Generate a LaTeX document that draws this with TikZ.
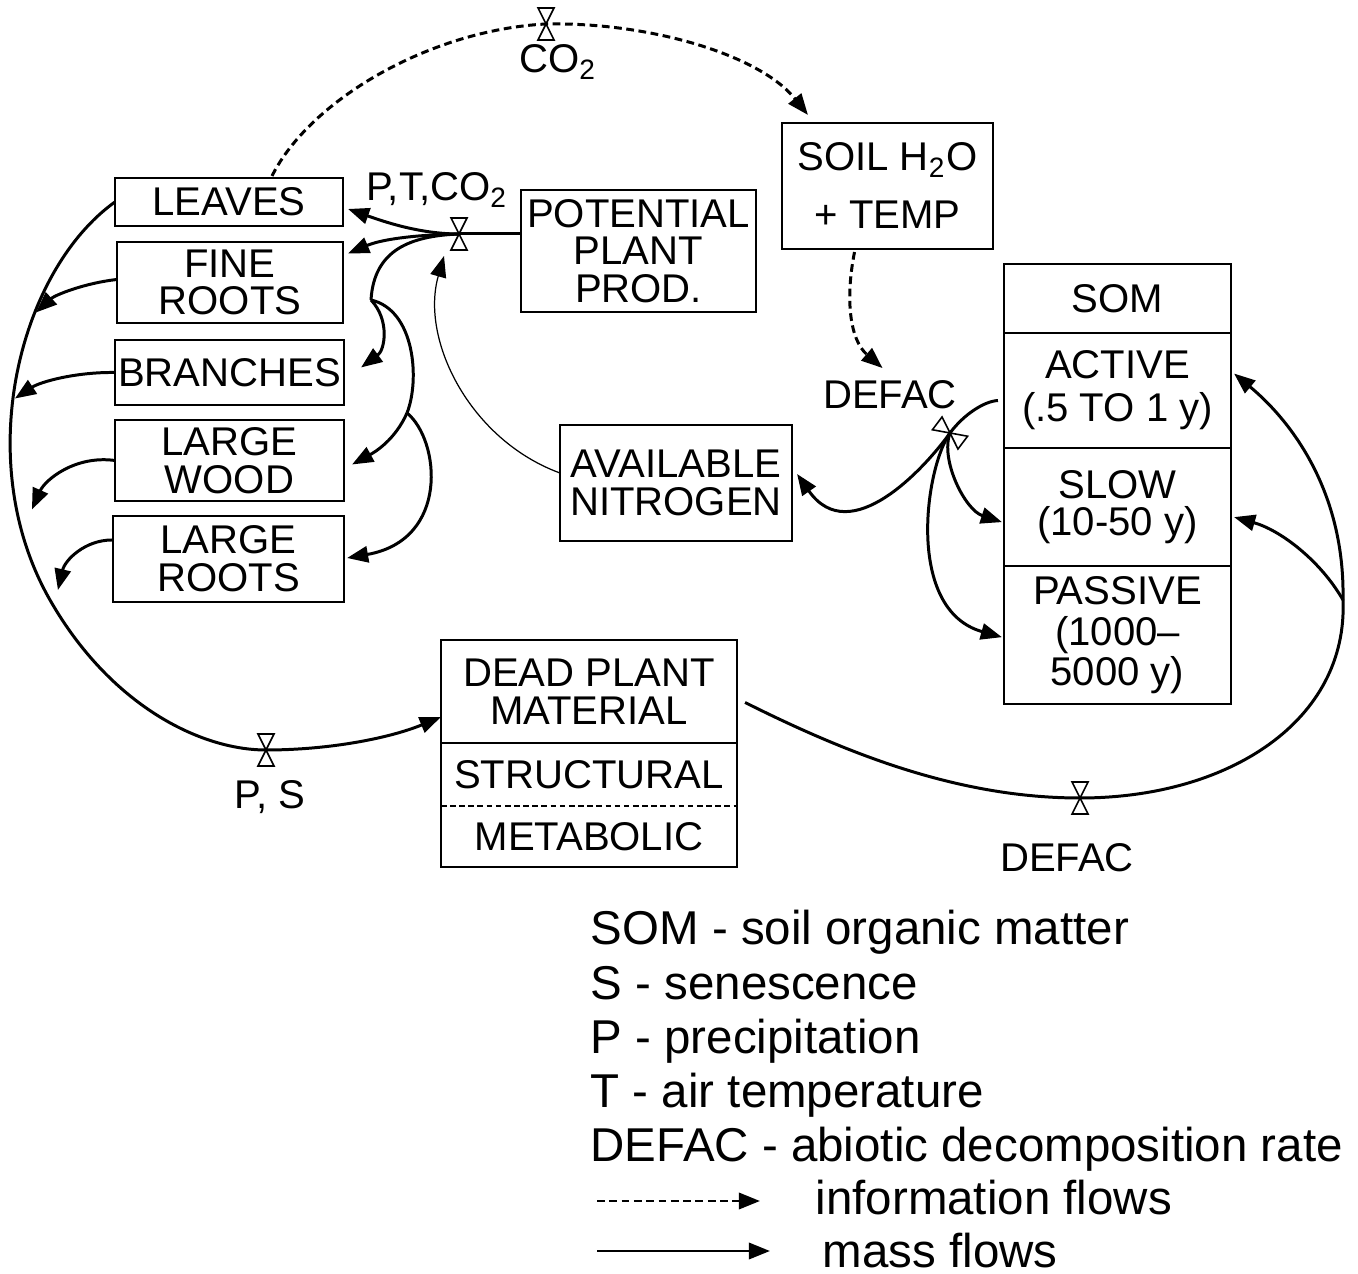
\documentclass[tikz,border=0pt]{standalone}
\usepackage{fontspec}
\setmainfont{Liberation Sans}
\usetikzlibrary{arrows.meta, positioning, calc}

\tikzset{
  box/.style={draw, line width=0.6pt, inner sep=0pt, outer sep=0pt},
  cell/.style={inner sep=0pt, outer sep=0pt},
  frame/.style={line width=0.6pt},
  mass/.style={line width=0.85pt, -{Triangle[length=6pt, width=4.6pt]}},
  massline/.style={line width=0.85pt},
  info/.style={line width=0.85pt, dash pattern=on 2.2pt off 1.3pt, -{Triangle[length=6pt, width=4.6pt]}},
  thinflow/.style={line width=0.35pt, -{Triangle[length=6pt, width=4.6pt]}},
  valve/.pic={\draw[line width=0.45pt, fill=white] (-8,-16) -- (8,-16) -- (-8,16) -- (8,16) -- cycle;},
  legend/.style={font={\fontsize{13.5}{15}\selectfont}, anchor=base west, inner sep=0pt}
}

\begin{document}
\begin{tikzpicture}[x=0.01cm, y=-0.01cm, every node/.style={font={\fontsize{11.4}{10.7}\selectfont}, align=center}]
    \useasboundingbox (0,0) rectangle (1358,1274);

    % Plant pools
    \node[box, minimum width=2.28cm, minimum height=0.48cm] (leaves) at (229,202) {LEAVES};
    \node[box, minimum width=2.26cm, minimum height=0.81cm] (fineroots) at (230,282.5) {FINE\\ROOTS};
    \node[box, minimum width=2.29cm, minimum height=0.65cm] (branches) at (229.5,372.5) {BRANCHES};
    \node[box, minimum width=2.29cm, minimum height=0.81cm] (largewood) at (229.5,460.5) {LARGE\\WOOD};
    \node[box, minimum width=2.31cm, minimum height=0.86cm] (largeroots) at (228.5,559) {LARGE\\ROOTS};

    % Drivers
    \node[box, minimum width=2.35cm, minimum height=1.22cm] (potprod) at (638.5,251) {POTENTIAL\\PLANT\\PROD.};
    \node[box, minimum width=2.11cm, minimum height=1.26cm] (soilwt) at (887.5,186) {SOIL H\textsubscript{2}O\\[5.8pt]+ TEMP};
    \node[box, minimum width=2.32cm, minimum height=1.16cm] (nitrogen) at (676,483) {AVAILABLE\\NITROGEN};

    % Soil organic matter
    \node[box, minimum width=2.27cm, minimum height=0.69cm] (somhead) at (1117.5,298.5) {SOM};
    \node[box, minimum width=2.27cm, minimum height=1.15cm, below=0pt of somhead] (active) {ACTIVE\\[1.5pt](.5 TO 1 y)};
    \node[box, minimum width=2.27cm, minimum height=1.18cm, below=0pt of active] (slow) {SLOW\\(10-50 y)};
    \node[box, minimum width=2.27cm, minimum height=1.38cm, below=0pt of slow] (passive) {PASSIVE\\[0.8pt](1000--\\[0.8pt]5000 y)};

    % Dead plant material
    \node[cell, minimum width=2.96cm, minimum height=1.03cm] (deadplant) at (589,691.5) {DEAD PLANT\\MATERIAL};
    \node[cell, minimum width=2.96cm, minimum height=0.63cm, below=0pt of deadplant] (structural) {STRUCTURAL};
    \node[cell, minimum width=2.96cm, minimum height=0.61cm, below=0pt of structural] (metabolic) {METABOLIC};
    \draw[frame] (deadplant.north west) rectangle (metabolic.south east);
    \draw[frame] (structural.north west) -- (structural.north east);
    \draw[frame, dash pattern=on 1.6pt off 1pt] (structural.south west) -- (structural.south east);

    % Valves and junctions
    \coordinate (vco) at (546,24);
    \coordinate (vptc) at (459,234);
    \coordinate (vdefac) at (950,433);
    \coordinate (vps) at (266,750);
    \coordinate (vdefacb) at (1080,798);
    \coordinate (split1) at (371,300);
    \coordinate (split2) at (407,413);
    \coordinate (rsplit) at (1343,600);

    % Information flows
    \draw[info] ($(leaves.north)+(43,-2)$) .. controls (310,100) and (430,30) .. (vco)
        .. controls (650,22) and (760,55) .. ($(soilwt.north west)+(26,-8)$);
    \draw[info] ($(soilwt.south)+(-33,3)$) .. controls (845,300) and (850,340) .. ($(soilwt.south)+(-5,119)$);

    % Production
    \draw[massline] ($(potprod.west)+(0,-17)$) -- (vptc);
    \draw[mass] (vptc) .. controls (420,234) and (385,222) .. ($(leaves.east)+(5,7)$);
    \draw[mass] (vptc) .. controls (410,235) and (380,240) .. ($(fineroots.east)+(5,-29)$);
    \draw[massline] (vptc) .. controls (410,236) and (374,250) .. (split1);
    \draw[mass] (split1) .. controls (390,320) and (385,350) .. ($(branches.east)+(17,-5)$);
    \draw[massline] (split1) .. controls (415,310) and (420,380) .. (split2);
    \draw[mass] (split2) .. controls (395,440) and (375,452) .. ($(largewood.east)+(8,4)$);
    \draw[mass] (split2) .. controls (440,440) and (450,540) .. ($(largeroots.east)+(3,-1)$);
    \draw[thinflow] ($(nitrogen.west)+(0,-10)$) .. controls (470,440) and (420,340) .. ($(vptc)+(-15,22)$);

    % Litterfall
    \draw[mass] (leaves.west) .. controls (20,270) and (-30,460) .. (50,600)
        .. controls (110,705) and (200,750) .. (vps)
        .. controls (330,750) and (390,738) .. ($(deadplant.south west)+(0,-26)$);
    \draw[mass] ($(fineroots.west)+(0,-3)$) .. controls (85,283) and (55,295) .. ($(fineroots.west)+(-81,30)$);
    \draw[mass] (branches.west) .. controls (75,372) and (40,382) .. ($(branches.west)+(-100,26)$);
    \draw[mass] (largewood.west) .. controls (75,455) and (45,480) .. ($(largewood.west)+(-83,49)$);
    \draw[mass] ($(largeroots.west)+(-1,-19)$) .. controls (85,540) and (65,560) .. ($(largeroots.west)+(-55,31)$);

    % Decomposition
    \draw[massline] ($(active.west)+(-6,10)$) .. controls (985,401) and (964,414) .. (vdefac);
    \draw[mass] (vdefac) .. controls (925,468) and (850,550) .. ($(nitrogen.east)+(5,-9)$);
    \draw[mass] (vdefac) .. controls (940,460) and (965,510) .. ($(slow.west)+(-2,15)$);
    \draw[mass] (vdefac) .. controls (925,468) and (905,610) .. ($(passive.west)+(-2,2)$);
    \draw[massline] ($(deadplant.east)+(8,11)$) .. controls (850,755) and (960,798) .. (vdefacb)
        .. controls (1230,798) and (1348,720) .. (rsplit);
    \draw[mass] (rsplit) .. controls (1345,490) and (1290,420) .. ($(active.east)+(3,-17)$);
    \draw[mass] (rsplit) .. controls (1320,560) and (1280,530) .. ($(slow.east)+(3,10)$);

    \pic at (vco) {valve};
    \pic at (vptc) {valve};
    \pic[rotate=53] at (vdefac) {valve};
    \pic at (vps) {valve};
    \pic at (vdefacb) {valve};

    % Labels
    \node (lblptc) at (437,190) {P,T,CO\textsubscript{2}};
    \node (lblco) at (558,62) {CO\textsubscript{2}};
    \node (lbldefac) at (890,395) {DEFAC};
    \node (lblps) at (270,797) {P, S};
    \node (lbldefacb) at (1067,858) {DEFAC};

    % Legend
    \node[legend] (legsom) at (590,945) {SOM - soil organic matter};
    \node[legend] (legs) at (590,999) {S - senescence};
    \node[legend] (legp) at (590,1053) {P - precipitation};
    \node[legend] (legt) at (590,1107) {T - air temperature};
    \node[legend] (legdefac) at (590,1161) {DEFAC - abiotic decomposition rate};
    \node[legend] (leginfo) at (815,1214) {information flows};
    \node[legend] (legmass) at (822,1267) {mass flows};
    \coordinate (info0) at (597,1201);
    \coordinate (info1) at (760,1201);
    \coordinate (mass0) at (597,1251);
    \coordinate (mass1) at (770,1251);
    \draw[info] (info0) -- (info1);
    \draw[mass] (mass0) -- (mass1);
\end{tikzpicture}
\end{document}
